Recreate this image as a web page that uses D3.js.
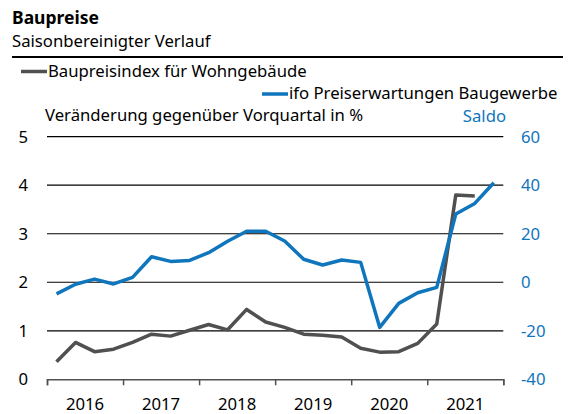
<!DOCTYPE html>
<html>
<head>
<meta charset="utf-8">
<script src="https://cdn.jsdelivr.net/npm/d3@7"></script>
<style>
  body { margin: 0; background: #fff; }
  svg text { font-family: "Noto Sans", sans-serif; }
</style>
</head>
<body>
<div class="graph"></div>
<script>
// quarters 2016Q1 .. 2021Q4
var years = [2016, 2017, 2018, 2019, 2020, 2021];
var quarters = [];
years.forEach(function(y){ for (var q = 1; q <= 4; q++) quarters.push(y + (q - 0.5) / 4); });

// Baupreisindex fuer Wohngebaeude, Veraenderung gg. Vorquartal in % (bis 2021Q3)
var baupreis = [0.36, 0.76, 0.57, 0.62, 0.76, 0.93, 0.89, 1.01, 1.13, 1.02, 1.44, 1.18,
                1.07, 0.93, 0.91, 0.87, 0.64, 0.56, 0.57, 0.74, 1.14, 3.80, 3.78];
// ifo Preiserwartungen Baugewerbe, Saldo
var ifo = [-4.8, -0.8, 1.3, -0.7, 2.0, 10.5, 8.6, 9.0, 12.2, 16.9, 21.0, 21.0,
           17.0, 9.5, 7.1, 9.2, 8.2, -18.6, -8.7, -4.3, -2.1, 28.1, 32.5, 41.0];

var leftTicks = [0, 1, 2, 3, 4, 5];
var rightTicks = [-40, -20, 0, 20, 40, 60];

var W = 576, H = 414;
var blue = "#0f75bc", grey = "#505050";
var fs = "16.7px";

var svg = d3.select(".graph").append("svg")
  .attr("width", W).attr("height", H);

var x = d3.scaleLinear().domain([2016, 2022]).range([47, 503.3]);
var yL = d3.scaleLinear().domain([0, 5]).range([379.3, 136.7]);
var yR = d3.scaleLinear().domain([-40, 60]).range([379.3, 136.7]);

// header
svg.append("text").attr("x", 12).attr("y", 24)
  .style("font-size", "17.5px").style("font-weight", "bold").text("Baupreise");
svg.append("text").attr("x", 12).attr("y", 47)
  .style("font-size", fs).text("Saisonbereinigter Verlauf");
svg.append("line").attr("x1", 12).attr("x2", 563).attr("y1", 57).attr("y2", 57)
  .attr("stroke", "#000").attr("stroke-width", 2);

// legend
svg.append("line").attr("x1", 21).attr("x2", 47).attr("y1", 71.5).attr("y2", 71.5)
  .attr("stroke", grey).attr("stroke-width", 3.5);
svg.append("text").attr("x", 48).attr("y", 77)
  .style("font-size", fs).text("Baupreisindex für Wohngebäude");
svg.append("line").attr("x1", 262).attr("x2", 288).attr("y1", 94).attr("y2", 94)
  .attr("stroke", blue).attr("stroke-width", 3.5);
svg.append("text").attr("x", 289).attr("y", 99)
  .style("font-size", fs).text("ifo Preiserwartungen Baugewerbe");

// axis titles
svg.append("text").attr("x", 45).attr("y", 121)
  .style("font-size", fs).text("Veränderung gegenüber Vorquartal in %");
svg.append("text").attr("x", 506).attr("y", 122).attr("text-anchor", "end")
  .attr("fill", blue).style("font-size", fs).text("Saldo");

// grid
svg.append("g").selectAll("line").data(leftTicks.slice(1)).join("line")
  .attr("x1", x(2016)).attr("x2", x(2022))
  .attr("y1", d => yL(d)).attr("y2", d => yL(d))
  .attr("stroke", "#000").attr("stroke-width", 1.2);

// left labels
svg.append("g").selectAll("text").data(leftTicks).join("text")
  .attr("x", 28).attr("y", d => yL(d)).attr("dy", "0.35em")
  .attr("text-anchor", "end").style("font-size", fs)
  .text(d => d);

// right labels
svg.append("g").selectAll("text").data(rightTicks).join("text")
  .attr("x", 521).attr("y", d => yR(d)).attr("dy", "0.35em")
  .attr("fill", blue).style("font-size", fs)
  .text(d => d);

// bottom axis
var xAxis = d3.axisBottom(x).tickValues(d3.range(2016, 2023)).tickSize(6).tickFormat("");
var gx = svg.append("g").attr("transform", "translate(0," + yL(0) + ")").call(xAxis);
gx.select(".domain").attr("stroke", grey).attr("stroke-width", 1.5);
gx.selectAll(".tick line").attr("stroke", grey).attr("stroke-width", 1.5);

svg.append("g").selectAll("text").data(years).join("text")
  .attr("x", d => x(d + 0.5)).attr("y", 410).attr("text-anchor", "middle")
  .style("font-size", fs).text(d => d);

// lines
var lineL = d3.line().x((d, i) => x(quarters[i])).y(d => yL(d));
var lineR = d3.line().x((d, i) => x(quarters[i])).y(d => yR(d));

svg.append("path").datum(baupreis).attr("d", lineL)
  .attr("fill", "none").attr("stroke", grey).attr("stroke-width", 3.5)
  .attr("stroke-linejoin", "round");
svg.append("path").datum(ifo).attr("d", lineR)
  .attr("fill", "none").attr("stroke", blue).attr("stroke-width", 3.5)
  .attr("stroke-linejoin", "round");
</script>
</body>
</html>
